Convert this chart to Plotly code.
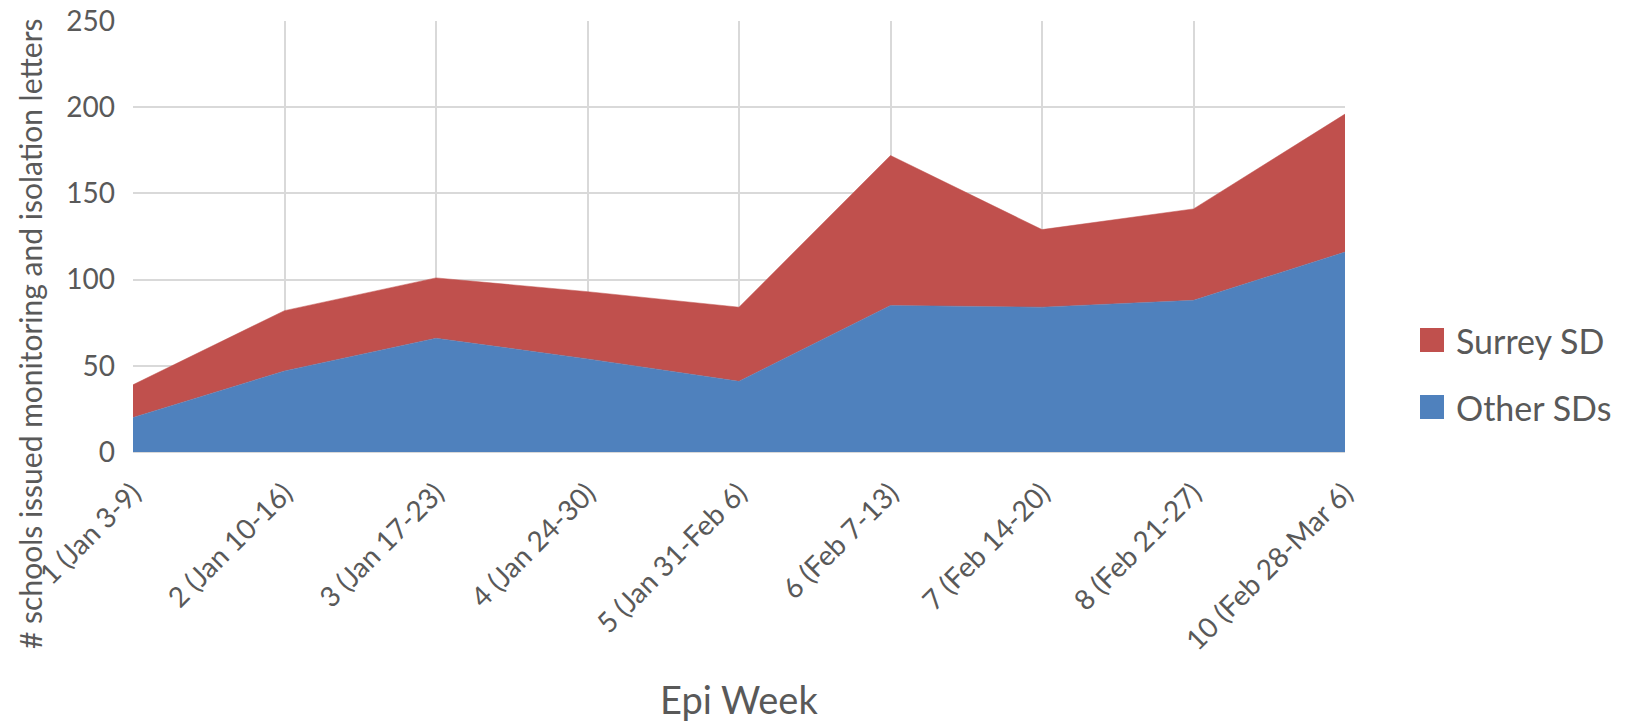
import plotly.graph_objects as go

weeks = ["1 (Jan 3-9)", "2 (Jan 10-16)", "3 (Jan 17-23)", "4 (Jan 24-30)",
         "5 (Jan 31-Feb 6)", "6 (Feb 7-13)", "7 (Feb 14-20)", "8 (Feb 21-27)",
         "10 (Feb 28-Mar 6)"]
other_sds = [20, 47, 66, 54, 41, 85, 84, 88, 116]
surrey_sd = [19, 35, 35, 39, 43, 87, 45, 53, 80]
y_ticks = [0, 50, 100, 150, 200, 250]

FONT = "Lato"
GREY = "#595959"
BLUE = "#4F81BD"
RED = "#C0504D"

# plot area in page pixels (body margin removed below)
PX0, PX1, PY0, PY1 = 133, 1345, 21, 452
FIG_W, FIG_H = 1643, 722


def px(X):
    return (X - PX0) / (PX1 - PX0)


def py(Y):
    return (PY1 - Y) / (PY1 - PY0)


fig = go.Figure()
fig.add_trace(go.Scatter(
    x=weeks, y=other_sds, name="Other SDs", mode="lines",
    stackgroup="one", line=dict(width=0.5, color=BLUE),
    fillcolor=BLUE, showlegend=False))
fig.add_trace(go.Scatter(
    x=weeks, y=surrey_sd, name="Surrey SD", mode="lines",
    stackgroup="one", line=dict(width=0.5, color=RED),
    fillcolor=RED, showlegend=False))

legend_items = [("Surrey SD", RED, 340), ("Other SDs", BLUE, 407)]
shapes = []
annotations = []
for name, col, yc in legend_items:
    shapes.append(dict(type="rect", xref="paper", yref="paper",
                       x0=px(1420), x1=px(1444), y0=py(yc + 12), y1=py(yc - 12),
                       fillcolor=col, line=dict(width=0)))
    annotations.append(dict(text=name, xref="paper", yref="paper",
                            x=px(1454), y=py(yc), xanchor="left", yanchor="middle",
                            showarrow=False, font=dict(size=34, color=GREY, family=FONT)))

annotations.append(dict(text="# schools issued monitoring and isolation letters",
                        textangle=-90, xref="paper", yref="paper",
                        x=px(30), y=py(334), xanchor="center", yanchor="middle",
                        showarrow=False, font=dict(size=30, color=GREY, family=FONT)))
annotations.append(dict(text="Epi Week", xref="paper", yref="paper",
                        x=0.5, y=py(699), xanchor="center", yanchor="middle",
                        showarrow=False, font=dict(size=38, color=GREY, family=FONT)))

fig.update_layout(
    width=FIG_W, height=FIG_H,
    margin=dict(l=PX0, r=FIG_W - PX1, t=PY0, b=FIG_H - PY1),
    paper_bgcolor="white", plot_bgcolor="white",
    font=dict(family=FONT, color=GREY),
    showlegend=False,
    xaxis=dict(
        type="category", range=[0, len(weeks) - 1], automargin=False,
        showgrid=True, gridcolor="#D9D9D9", gridwidth=1.5,
        tickangle=-45, tickfont=dict(size=28, color=GREY),
        ticks="", showline=False, zeroline=False, ticklabelstandoff=18,
    ),
    yaxis=dict(
        range=[0, 250], tickvals=y_ticks, automargin=False,
        showgrid=True, gridcolor="#D9D9D9", gridwidth=1.5,
        tickfont=dict(size=28, color=GREY), ticks="",
        showline=False, zeroline=True, zerolinecolor="#D9D9D9", zerolinewidth=2,
        ticklabelstandoff=17,
    ),
    shapes=shapes,
    annotations=annotations,
)

fig.write_html("out.html",
               config={"displayModeBar": False},
               post_script="document.body.style.margin='0px';"
                           "document.body.style.overflow='hidden';")
